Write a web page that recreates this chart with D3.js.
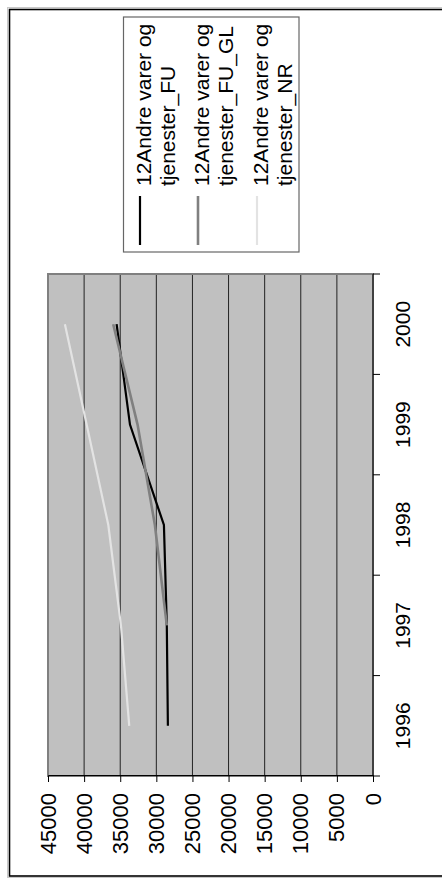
<!DOCTYPE html>
<html>
<head>
<meta charset="utf-8">
<script src="https://cdn.jsdelivr.net/npm/d3@7"></script>
<style>
  html, body { margin: 0; padding: 0; background: #fff; }
  svg { display: block; font-family: "Liberation Sans", Arial, sans-serif; }
</style>
</head>
<body>
<svg id="chart" width="442" height="880"></svg>
<script>
// ---- data ----
const categories = ["1996", "1997", "1998", "1999", "2000"];
const seriesNames = [
  ["12Andre varer og", "tjenester_FU"],
  ["12Andre varer og", "tjenester_FU_GL"],
  ["12Andre varer og", "tjenester_NR"]
];
const valuesFU   = [28400, 28550, 28950, 33650, 35500];
const valuesFUGL = [null, 28550, 30200, 32600, 35970];
const valuesNR   = [33750, 34900, 36650, 39650, 42660];
const valueTicks = [0, 5000, 10000, 15000, 20000, 25000, 30000, 35000, 40000, 45000];

const seriesColors = ["#000000", "#808080", "#e3e3e3"];
const seriesWidths = [2.2, 2.6, 2.2];
const seriesValues = [valuesFU, valuesFUGL, valuesNR];

const svg = d3.select("#chart");

// outer chart border (screen coords)
svg.append("rect").attr("x", 7.5).attr("y", 7.5).attr("width", 460).attr("height", 870)
  .attr("fill", "none").attr("stroke", "#c8c8c8").attr("stroke-width", 1);
svg.append("rect").attr("x", 9.5).attr("y", 9.5).attr("width", 460).attr("height", 866.5)
  .attr("fill", "none").attr("stroke", "#000").attr("stroke-width", 1.6);

// rotated group: unrotated chart is 880 wide x 442 tall
const g = svg.append("g").attr("transform", "translate(0,880) rotate(-90)");

const plot = { left: 104, right: 606, top: 48, bottom: 373 };

const x = d3.scaleBand().domain(categories).range([plot.left, plot.right]).padding(0);
const y = d3.scaleLinear().domain([0, 45000]).range([plot.bottom, plot.top]);
const xc = d => x(d) + x.bandwidth() / 2;

// plot background
g.append("rect")
  .attr("x", plot.left).attr("y", plot.top)
  .attr("width", plot.right - plot.left).attr("height", plot.bottom - plot.top)
  .attr("fill", "#c0c0c0");

// gridlines
g.append("g").selectAll("line")
  .data(valueTicks.filter(v => v > 0 && v < 45000))
  .join("line")
  .attr("x1", plot.left).attr("x2", plot.right)
  .attr("y1", d => y(d)).attr("y2", d => y(d))
  .attr("stroke", "#222").attr("stroke-width", 1);

// plot border
g.append("rect")
  .attr("x", plot.left).attr("y", plot.top)
  .attr("width", plot.right - plot.left).attr("height", plot.bottom - plot.top)
  .attr("fill", "none").attr("stroke", "#808080").attr("stroke-width", 2);

// value axis
const yAxis = d3.axisLeft(y).tickValues(valueTicks).tickSize(6).tickPadding(11)
  .tickFormat(d3.format("d"));
const ya = g.append("g").attr("transform", `translate(${plot.left},0)`).call(yAxis);
ya.select(".domain").attr("stroke", "#000").attr("stroke-width", 1);
ya.selectAll(".tick line").attr("stroke", "#000");
ya.selectAll("text").attr("font-size", 22).attr("fill", "#000")
  .attr("font-family", "'Liberation Sans', Arial, sans-serif");

// category axis
const xBound = d3.scaleLinear().domain([0, categories.length]).range([plot.left, plot.right]);
const xa = g.append("g").attr("transform", `translate(0,${plot.bottom})`);
xa.append("line").attr("x1", plot.left).attr("x2", plot.right)
  .attr("stroke", "#000").attr("stroke-width", 1);
xa.selectAll("line.tk").data(d3.range(categories.length + 1)).join("line")
  .attr("class", "tk")
  .attr("x1", d => xBound(d)).attr("x2", d => xBound(d))
  .attr("y1", 0).attr("y2", 7).attr("stroke", "#000").attr("stroke-width", 1);
const xAxis = d3.axisBottom(x).tickSize(0).tickPadding(22);
const xa2 = g.append("g").attr("transform", `translate(0,${plot.bottom})`).call(xAxis);
xa2.select(".domain").remove();
xa2.selectAll("text").attr("font-size", 21).attr("fill", "#000")
  .attr("font-family", "'Liberation Sans', Arial, sans-serif");

// lines
const line = d3.line()
  .defined(d => d.v != null)
  .x(d => xc(d.c))
  .y(d => y(d.v));

seriesValues.forEach((vals, i) => {
  g.append("path")
    .datum(categories.map((c, j) => ({ c, v: vals[j] })))
    .attr("d", line)
    .attr("fill", "none")
    .attr("stroke", seriesColors[i])
    .attr("stroke-width", seriesWidths[i])
    .attr("stroke-linejoin", "miter");
});

// legend
const lg = g.append("g");
lg.append("rect").attr("x", 628).attr("y", 123.5).attr("width", 235).attr("height", 175.5)
  .attr("fill", "#fff").attr("stroke", "#666").attr("stroke-width", 1.2);
const entryY = [140, 198, 257];
seriesNames.forEach((nm, i) => {
  lg.append("line").attr("x1", 635).attr("x2", 684)
    .attr("y1", entryY[i]).attr("y2", entryY[i])
    .attr("stroke", seriesColors[i]).attr("stroke-width", seriesWidths[i]);
  nm.forEach((t, k) => {
    lg.append("text").attr("x", 694).attr("y", entryY[i] + 11 + k * 23.5)
      .attr("font-size", 21).attr("fill", "#000").text(t);
  });
});
</script>
</body>
</html>
